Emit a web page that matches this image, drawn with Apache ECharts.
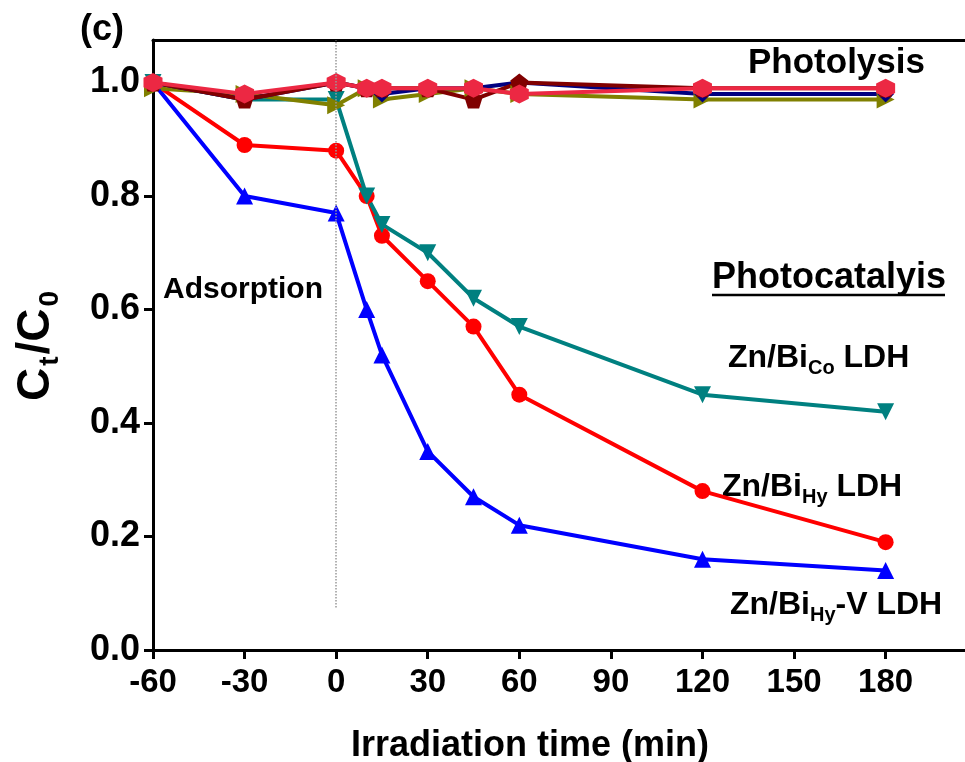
<!DOCTYPE html>
<html>
<head>
<meta charset="utf-8">
<script src="https://cdn.jsdelivr.net/npm/echarts@6/dist/echarts.min.js"></script>
<style>
  html, body { margin: 0; padding: 0; background: #fff; }
  #chart { width: 965px; height: 762px; }
</style>
</head>
<body>
<div id="chart"></div>
<script>
// irradiation time (min)
const times = [-60, -30, 0, 10, 15, 30, 45, 60, 120, 180];
const xTicks = [-60, -30, 0, 30, 60, 90, 120, 150, 180];
const yTicks = [0, 0.2, 0.4, 0.6, 0.8, 1.0];

// photocatalysis
const hyV = [1.0, 0.80, 0.77, 0.60, 0.52, 0.35, 0.27, 0.22, 0.16, 0.14];
const hy = [1.0, 0.89, 0.88, 0.80, 0.73, 0.65, 0.57, 0.45, 0.28, 0.19];
const co = [1.0, 0.97, 0.97, 0.80, 0.75, 0.70, 0.62, 0.57, 0.45, 0.42];

// photolysis
const phOlive = [0.99, 0.98, 0.96, 0.99, 0.97, 0.98, 0.99, 0.98, 0.97, 0.97];
const phNavy = [1.0, 0.97, 1.0, 0.99, 0.98, 0.99, 0.99, 1.0, 0.98, 0.98];
const phMaroon = [1.0, 0.97, 1.0, 0.99, 0.99, 0.99, 0.97, 1.0, 0.99, 0.99];
const phCrimson = [1.0, 0.98, 1.0, 0.99, 0.99, 0.99, 0.99, 0.98, 0.99, 0.99];

const pentagon = 'path://M50,0 L100,38 L81,100 L19,100 L0,38 Z';
const hexagon = 'path://M50,0 L93,25 L93,75 L50,100 L7,75 L7,25 Z';

const bold = 'Liberation Sans, Arial, sans-serif';

function pairs(vals) {
  return times.map((t, i) => [t, vals[i]]);
}

function line(name, vals, color, symbol, size, rotate) {
  return {
    name: name,
    type: 'line',
    data: pairs(vals),
    symbol: symbol,
    symbolSize: size,
    symbolRotate: rotate || 0,
    lineStyle: { color: color, width: 4 },
    itemStyle: { color: color },
    animation: false
  };
}

function subLabel(x, y, main, sub, tail) {
  return {
    type: 'text', x: x, y: y,
    style: {
      text: '{a|' + main + '}{s|' + sub + '}{a|' + tail + '}',
      textVerticalAlign: 'middle',
      rich: {
        a: { fontFamily: bold, fontWeight: 'bold', fontSize: 32, fill: '#000' },
        s: { fontFamily: bold, fontWeight: 'bold', fontSize: 20, fill: '#000', verticalAlign: 'bottom', padding: [20, 0, 0, 0] }
      }
    }
  };
}

const chart = echarts.init(document.getElementById('chart'));
chart.setOption({
  backgroundColor: '#fff',
  grid: { left: 153, right: 0, top: 40, bottom: 112, outerBoundsMode: 'none' },
  xAxis: [
    {
      type: 'value',
      min: -60,
      max: 206,
      interval: 30,
      splitLine: { show: false },
      axisLine: { onZero: false, lineStyle: { color: '#000', width: 3 } },
      axisTick: { length: 9, lineStyle: { color: '#000', width: 3 }, customValues: xTicks },
      axisLabel: {
        customValues: xTicks,
        color: '#000',
        fontFamily: bold,
        fontWeight: 'bold',
        fontSize: 33,
        margin: 16
      },
      name: 'Irradiation time (min)',
      nameLocation: 'middle',
      nameGap: 78,
      nameTextStyle: { color: '#000', fontFamily: bold, fontWeight: 'bold', fontSize: 36, padding: [0, 0, 0, -58] }
    },
    {
      type: 'value',
      position: 'top',
      min: -60,
      max: 206,
      axisLine: { onZero: false, lineStyle: { color: '#000', width: 3 } },
      axisTick: { show: false },
      axisLabel: { show: false },
      splitLine: { show: false }
    }
  ],
  yAxis: {
    type: 'value',
    min: 0,
    max: 1.075,
    interval: 0.2,
    splitLine: { show: false },
    axisLine: { show: true, onZero: false, lineStyle: { color: '#000', width: 3 } },
    axisTick: { show: true, length: 9, lineStyle: { color: '#000', width: 3 }, customValues: yTicks },
    axisLabel: {
      customValues: yTicks,
      color: '#000',
      fontFamily: bold,
      fontWeight: 'bold',
      fontSize: 36,
      margin: 13,
      formatter: v => v.toFixed(1)
    },
    name: '{a|C}{s|t}{a|/C}{s|0}',
    nameLocation: 'middle',
    nameRotate: 90,
    nameGap: 89,
    nameTextStyle: {
      rich: {
        a: { fontFamily: bold, fontWeight: 'bold', fontSize: 46, color: '#000' },
        s: { fontFamily: bold, fontWeight: 'bold', fontSize: 28, color: '#000', verticalAlign: 'bottom', padding: [28, 2, 0, 2] }
      }
    }
  },
  series: [
    line('Zn/BiHy-V LDH', hyV, '#0000ff', 'triangle', 17),
    line('Zn/BiHy LDH', hy, '#ff0000', 'circle', 16),
    line('Zn/BiCo LDH', co, '#008080', 'triangle', 17, 180),
    line('Photolysis olive', phOlive, '#808000', 'triangle', 18, -90),
    line('Photolysis navy', phNavy, '#000080', 'diamond', 17),
    line('Photolysis maroon', phMaroon, '#800000', pentagon, 18),
    Object.assign(line('Photolysis crimson', phCrimson, '#ec2843', hexagon, 19), {
      markLine: {
        silent: true,
        symbol: 'none',
        label: { show: false },
        lineStyle: { color: '#999', type: 'dotted', width: 1.5 },
        data: [[{ coord: [0, 0.075] }, { coord: [0, 1.075] }]]
      }
    })
  ],
  graphic: [
    { type: 'text', x: 80, y: 30, style: { text: '(c)', fill: '#000', font: 'bold 36px ' + bold, textVerticalAlign: 'middle' } },
    { type: 'text', x: 748, y: 63, style: { text: 'Photolysis', fill: '#000', font: 'bold 35px ' + bold, textVerticalAlign: 'middle' } },
    { type: 'text', x: 163, y: 290, style: { text: 'Adsorption', fill: '#000', font: 'bold 30px ' + bold, textVerticalAlign: 'middle' } },
    { type: 'text', x: 712, y: 278, style: { text: 'Photocatalyis', fill: '#000', font: 'bold 36px ' + bold, textVerticalAlign: 'middle' } },
    { type: 'line', shape: { x1: 712, y1: 295, x2: 945, y2: 295 }, style: { stroke: '#000', lineWidth: 2.5 } },
    subLabel(728, 358, 'Zn/Bi', 'Co', ' LDH'),
    subLabel(722, 487, 'Zn/Bi', 'Hy', ' LDH'),
    subLabel(730, 605, 'Zn/Bi', 'Hy', '-V LDH')
  ]
});
</script>
</body>
</html>
